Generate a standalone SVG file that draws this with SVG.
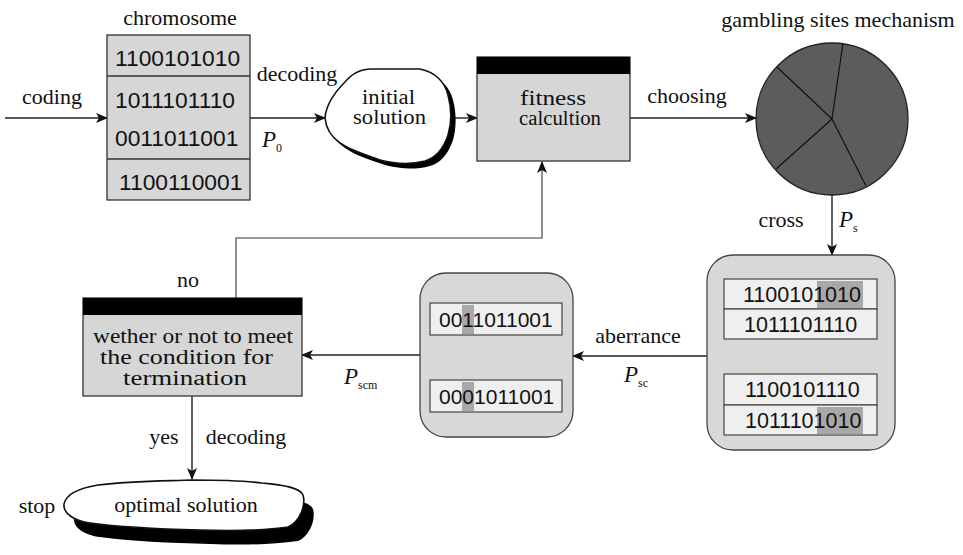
<svg xmlns="http://www.w3.org/2000/svg" width="963" height="555" viewBox="0 0 963 555">
<defs>
<marker id="ah" viewBox="0 0 12 10" refX="11" refY="5" markerWidth="12" markerHeight="10" markerUnits="userSpaceOnUse" orient="auto"><path d="M0,0 L12,5 L0,10 L3,5 Z" fill="#111"/></marker>
<path id="blob1" d="M 325 118 C 326 105, 335 92, 345 82 C 352 74, 358 70, 370 69 L 420 69 C 435 72, 445 82, 448 95 C 452 110, 451 125, 448 135 C 443 150, 435 158, 425 161 C 410 165, 395 164, 380 160 C 365 155, 350 150, 340 143 C 330 136, 326 128, 325 118 Z"/>
<path id="blob2" d="M 64 504 C 66 494, 80 488, 98 485 C 130 481, 165 481, 192 480 C 220 480, 245 481, 262 483 C 285 485, 300 488, 303 495 C 306 505, 300 522, 288 527 C 260 531, 230 531, 200 530 C 160 529, 120 527, 90 523 C 75 521, 63 514, 64 504 Z"/>
</defs>
<style>
.t{font-family:"Liberation Serif","Times New Roman",serif;font-size:22px;fill:#111}
.m{font-family:"Liberation Serif","Times New Roman",serif;font-size:20.5px;fill:#111}
.d{font-family:"Liberation Sans",Arial,sans-serif;font-size:22.8px;fill:#111}
.e{font-family:"Liberation Sans",Arial,sans-serif;font-size:21.5px;fill:#111}
.f{font-family:"Liberation Sans",Arial,sans-serif;font-size:21px;fill:#111}
.p{font-family:"Liberation Serif","Times New Roman",serif;font-size:23px;font-style:italic;fill:#111}
.s{font-family:"Liberation Serif","Times New Roman",serif;font-size:12px;fill:#111}
.box{fill:#d6d6d6;stroke:#333;stroke-width:1.3}
.bar{fill:#000}
.rbox{fill:#d8d8d8;stroke:#444;stroke-width:1.3}
.row{fill:#efefef;stroke:#444;stroke-width:1.2}
.hl{fill:#a8a8a8}
.c{fill:none;stroke:#222;stroke-width:1.4}
.g{fill:none;stroke:#777;stroke-width:1.6}
.shadow{fill:#000}
.blob{fill:#fff;stroke:#111;stroke-width:1.6}
</style>
<g id="connectors">
<line class="c" x1="5" y1="118" x2="107" y2="118" marker-end="url(#ah)"/>
<line class="c" x1="250" y1="118" x2="325" y2="118" marker-end="url(#ah)"/>
<line class="c" x1="452" y1="118" x2="477" y2="118" marker-end="url(#ah)"/>
<line class="c" x1="630" y1="118" x2="756" y2="118" marker-end="url(#ah)"/>
<line class="c" x1="832" y1="195" x2="832" y2="255" marker-end="url(#ah)"/>
<line class="c" x1="707" y1="356" x2="573" y2="356" marker-end="url(#ah)"/>
<line class="c" x1="420" y1="355" x2="302" y2="355" marker-end="url(#ah)"/>
<polyline class="g" points="236,298 236,238 542,238 542,162" marker-end="url(#ah)"/>
<line class="c" x1="192" y1="396" x2="192" y2="479" marker-end="url(#ah)"/>
<line class="c" x1="840" y1="342" x2="840" y2="373" marker-end="url(#ah)"/>
<line class="c" x1="468" y1="345" x2="468" y2="377" marker-end="url(#ah)"/>
</g>
<g id="labels">
<text class="t" x="52" y="104" text-anchor="middle">coding</text>
<text class="t" x="297" y="81" text-anchor="middle">decoding</text>
<text class="p" x="262" y="147">P</text><text class="s" x="276" y="152">0</text>
<text class="t" x="687" y="103" text-anchor="middle">choosing</text>
<text class="t" x="781" y="227" text-anchor="middle">cross</text>
<text class="p" x="839" y="227">P</text><text class="s" x="853" y="232">s</text>
<text class="t" x="638" y="343" text-anchor="middle">aberrance</text>
<text class="p" x="624" y="382">P</text><text class="s" x="638" y="387">sc</text>
<text class="p" x="344" y="384">P</text><text class="s" x="358" y="389">scm</text>
<text class="t" x="188" y="287" text-anchor="middle">no</text>
<text class="t" x="164" y="444" text-anchor="middle">yes</text>
<text class="t" x="246" y="444" text-anchor="middle">decoding</text>
<text class="t" x="37" y="513" text-anchor="middle">stop</text>
</g>
<g id="chromosome">
<text class="t" x="180" y="25" text-anchor="middle">chromosome</text>
<rect class="box" x="107" y="35" width="143" height="165"/>
<line x1="107" y1="76" x2="250" y2="76" stroke="#333" stroke-width="1.3"/>
<line x1="107" y1="159" x2="250" y2="159" stroke="#333" stroke-width="1.3"/>
<text class="d" x="115" y="66">1100101010</text>
<text class="d" x="115" y="108">1011101110</text>
<text class="d" x="115" y="146">0011011001</text>
<text class="d" x="119" y="190">1100110001</text>
</g>
<g id="initial-solution">
<use href="#blob1" class="shadow" transform="translate(5,5)"/>
<use href="#blob1" class="blob"/>
<text class="m" x="362" y="104" textLength="53" lengthAdjust="spacingAndGlyphs">initial</text>
<text class="m" x="353" y="124" textLength="73" lengthAdjust="spacingAndGlyphs">solution</text>
</g>
<g id="fitness">
<rect class="box" x="477" y="57" width="153" height="104"/>
<rect class="bar" x="477" y="57" width="153" height="17"/>
<text class="m" x="520" y="105" textLength="66" lengthAdjust="spacingAndGlyphs">fitness</text>
<text class="m" x="519" y="125" textLength="82" lengthAdjust="spacingAndGlyphs">calcultion</text>
</g>
<g id="roulette">
<text class="t" x="838" y="27" text-anchor="middle">gambling sites mechanism</text>
<circle cx="832" cy="119" r="76" fill="#5c5c5c" stroke="#222" stroke-width="1.3"/>
<path d="M832,119 L777,67 M832,119 L843,43 M832,119 L866,186 M832,119 L776,169" stroke="#111" stroke-width="1.2" fill="none"/>
</g>
<g id="crossover">
<rect class="rbox" x="707" y="255" width="188" height="195" rx="26"/>
<rect class="row" x="724" y="279" width="153" height="30"/>
<rect class="row" x="724" y="309" width="153" height="30"/>
<rect class="row" x="724" y="374" width="153" height="31"/>
<rect class="row" x="724" y="405" width="153" height="30"/>
<rect class="hl" x="817" y="281" width="46" height="27"/>
<rect class="hl" x="817" y="407" width="46" height="27"/>
<text class="e" x="743" y="302">1100101010</text>
<text class="e" x="744" y="332">1011101110</text>
<text class="e" x="745" y="397">1100101110</text>
<text class="e" x="745" y="428">1011101010</text>
</g>
<g id="mutation">
<rect class="rbox" x="420" y="273" width="153" height="164" rx="26"/>
<rect class="row" x="430" y="303" width="132" height="32"/>
<rect class="row" x="430" y="380" width="132" height="32"/>
<rect class="hl" x="462" y="305" width="12" height="29"/>
<rect class="hl" x="462" y="382" width="12" height="29"/>
<text class="f" x="439" y="327">0011011001</text>
<text class="f" x="439" y="404">0001011001</text>
</g>
<g id="termination">
<rect class="box" x="83" y="298" width="219" height="98"/>
<rect class="bar" x="83" y="298" width="219" height="17"/>
<text class="m" x="93" y="343" textLength="200" lengthAdjust="spacingAndGlyphs">wether or not to meet</text>
<text class="m" x="100" y="364" textLength="173" lengthAdjust="spacingAndGlyphs">the condition for</text>
<text class="m" x="123" y="385" textLength="124" lengthAdjust="spacingAndGlyphs">termination</text>
</g>
<g id="optimal-solution">
<use href="#blob2" class="shadow" transform="translate(10,14)"/>
<use href="#blob2" class="blob"/>
<text class="t" x="186" y="512" text-anchor="middle">optimal solution</text>
</g>
</svg>
